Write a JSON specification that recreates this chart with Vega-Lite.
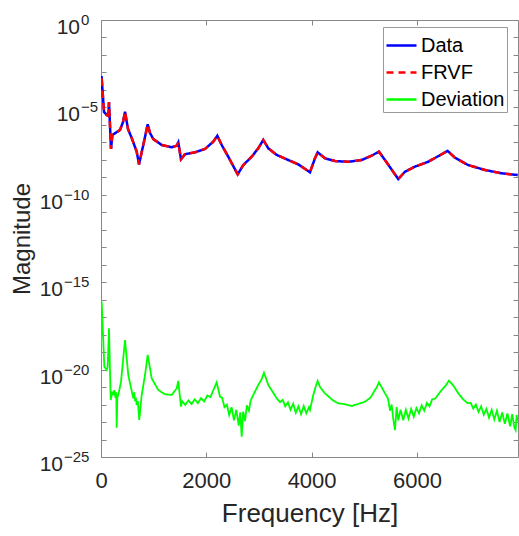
{
 "$schema": "https://vega.github.io/schema/vega-lite/v6.json",
 "width": 417,
 "height": 437,
 "autosize": {"type": "none"},
 "padding": {"left": 101, "top": 20, "right": 1, "bottom": 79},
 "background": "white",
 "config": {"view": {"stroke": null}, "font": "Liberation Sans"},
 "datasets": {
  "ylab": [
   {"m":1,"exp":"0"},{"m":1e-5,"exp":"−5"},{"m":1e-10,"exp":"−10"},
   {"m":1e-15,"exp":"−15"},{"m":1e-20,"exp":"−20"},{"m":1e-25,"exp":"−25"}
  ],
  "fit": [
   {"f":0,"m":3.94e-5},{"f":10,"m":6.25e-4},{"f":57,"m":5.50e-6},{"f":108,"m":3.67e-6},{"f":139,"m":3.24e-6},
   {"f":152,"m":2.04e-5},{"f":190,"m":4.17e-8},{"f":215,"m":2.63e-7},{"f":361,"m":5.13e-7},{"f":418,"m":1.45e-6},
   {"f":456,"m":5.62e-6},{"f":513,"m":5.75e-7},{"f":583,"m":1.78e-7},{"f":678,"m":2.95e-8},{"f":722,"m":5.50e-9},
   {"f":803,"m":7.08e-8},{"f":887,"m":1.07e-6},{"f":930,"m":3.47e-7},{"f":993,"m":1.55e-7},{"f":1153,"m":7.08e-8},
   {"f":1343,"m":5.25e-8},{"f":1438,"m":6.46e-8},{"f":1468,"m":1.0e-7},{"f":1519,"m":1.07e-8},{"f":1595,"m":2.09e-8},
   {"f":1785,"m":2.69e-8},{"f":1975,"m":4.17e-8},{"f":2133,"m":1.10e-7},{"f":2209,"m":2.40e-7},{"f":2292,"m":7.08e-8},
   {"f":2417,"m":1.51e-8},{"f":2596,"m":1.48e-9},{"f":2702,"m":5.01e-9},{"f":2862,"m":1.51e-8},{"f":2987,"m":4.57e-8},
   {"f":3082,"m":1.38e-7},{"f":3177,"m":4.57e-8},{"f":3337,"m":1.91e-8},{"f":3557,"m":9.77e-9},{"f":3747,"m":5.50e-9},
   {"f":3969,"m":1.95e-9},{"f":4064,"m":1.23e-8},{"f":4115,"m":2.69e-8},{"f":4254,"m":1.23e-8},{"f":4444,"m":8.51e-9},
   {"f":4696,"m":7.76e-9},{"f":4951,"m":9.77e-9},{"f":5141,"m":1.74e-8},{"f":5279,"m":2.95e-8},{"f":5393,"m":9.77e-9},
   {"f":5526,"m":2.63e-9},{"f":5646,"m":7.94e-10},{"f":5773,"m":2.09e-9},{"f":5963,"m":4.07e-9},{"f":6215,"m":7.76e-9},
   {"f":6470,"m":2.09e-8},{"f":6584,"m":3.24e-8},{"f":6722,"m":1.32e-8},{"f":6975,"m":5.01e-9},{"f":7292,"m":2.63e-9},
   {"f":7609,"m":1.70e-9},{"f":7913,"m":1.35e-9}
  ],
  "dev": [
   {"f":0,"m":2.57e-19},{"f":13,"m":7.59e-17},{"f":63,"m":1.48e-20},{"f":108,"m":9.55e-21},{"f":127,"m":1.48e-20},
   {"f":152,"m":2.29e-18},{"f":184,"m":1.82e-22},{"f":215,"m":5.50e-22},{"f":235,"m":3.55e-22},{"f":253,"m":6.76e-22},
   {"f":275,"m":2.40e-22},{"f":290,"m":5.01e-22},{"f":298,"m":4.79e-24},{"f":310,"m":2.51e-22},{"f":329,"m":3.55e-22},
   {"f":380,"m":2.04e-21},{"f":456,"m":4.90e-19},{"f":518,"m":4.90e-21},{"f":613,"m":2.29e-22},{"f":630,"m":5.01e-22},
   {"f":646,"m":1.58e-22},{"f":660,"m":2.51e-22},{"f":678,"m":9.33e-23},{"f":700,"m":1.58e-22},{"f":727,"m":1.32e-23},
   {"f":773,"m":3.55e-22},{"f":836,"m":4.90e-21},{"f":887,"m":6.92e-20},{"f":963,"m":3.16e-21},{"f":1088,"m":6.76e-22},
   {"f":1215,"m":3.89e-22},{"f":1343,"m":3.55e-22},{"f":1438,"m":8.51e-22},{"f":1468,"m":2.24e-21},{"f":1519,"m":7.59e-23},
   {"f":1540,"m":1.58e-22},{"f":1600,"m":9.55e-23},{"f":1660,"m":1.74e-22},{"f":1720,"m":1.07e-22},{"f":1780,"m":2.00e-22},
   {"f":1840,"m":1.20e-22},{"f":1900,"m":2.34e-22},{"f":1960,"m":1.51e-22},{"f":2020,"m":3.31e-22},{"f":2080,"m":2.69e-22},
   {"f":2130,"m":6.31e-22},{"f":2197,"m":1.86e-21},{"f":2260,"m":2.82e-22},{"f":2300,"m":2.51e-22},{"f":2345,"m":7.08e-23},
   {"f":2390,"m":1.00e-22},{"f":2435,"m":2.51e-23},{"f":2480,"m":7.08e-23},{"f":2525,"m":1.26e-23},{"f":2570,"m":5.01e-23},
   {"f":2615,"m":6.31e-24},{"f":2645,"m":3.55e-23},{"f":2672,"m":1.45e-24},{"f":2700,"m":3.98e-23},{"f":2735,"m":1.12e-23},
   {"f":2770,"m":8.91e-23},{"f":2810,"m":4.47e-23},{"f":2840,"m":1.58e-22},{"f":2862,"m":2.29e-22},{"f":2987,"m":1.32e-21},
   {"f":3050,"m":2.82e-21},{"f":3095,"m":6.61e-21},{"f":3140,"m":2.82e-21},{"f":3177,"m":1.32e-21},{"f":3337,"m":2.29e-22},
   {"f":3400,"m":1.35e-22},{"f":3450,"m":1.86e-22},{"f":3500,"m":7.94e-23},{"f":3550,"m":1.35e-22},{"f":3600,"m":5.01e-23},
   {"f":3650,"m":1.12e-22},{"f":3700,"m":3.39e-23},{"f":3750,"m":7.94e-23},{"f":3800,"m":2.82e-23},{"f":3850,"m":8.32e-23},
   {"f":3900,"m":3.16e-23},{"f":3950,"m":7.08e-23},{"f":3969,"m":4.90e-23},{"f":4032,"m":3.55e-22},{"f":4080,"m":1.12e-21},
   {"f":4115,"m":2.24e-21},{"f":4160,"m":1.0e-21},{"f":4254,"m":4.37e-22},{"f":4400,"m":1.78e-22},{"f":4506,"m":1.17e-22},
   {"f":4620,"m":1.07e-22},{"f":4761,"m":8.32e-23},{"f":4900,"m":1.12e-22},{"f":5013,"m":1.45e-22},{"f":5120,"m":2.51e-22},
   {"f":5203,"m":6.76e-22},{"f":5240,"m":1.0e-21},{"f":5279,"m":1.86e-21},{"f":5393,"m":4.37e-22},{"f":5450,"m":2.24e-22},
   {"f":5490,"m":4.47e-23},{"f":5520,"m":1.00e-22},{"f":5550,"m":1.58e-23},{"f":5583,"m":3.47e-24},{"f":5615,"m":7.08e-23},
   {"f":5646,"m":1.26e-23},{"f":5690,"m":5.01e-23},{"f":5740,"m":1.26e-23},{"f":5790,"m":5.01e-23},{"f":5840,"m":1.58e-23},
   {"f":5890,"m":5.62e-23},{"f":5940,"m":2.00e-23},{"f":5990,"m":6.31e-23},{"f":6040,"m":3.16e-23},{"f":6090,"m":8.91e-23},
   {"f":6140,"m":4.47e-23},{"f":6190,"m":1.26e-22},{"f":6240,"m":7.94e-23},{"f":6290,"m":2.00e-22},{"f":6350,"m":2.24e-22},
   {"f":6410,"m":3.98e-22},{"f":6470,"m":6.76e-22},{"f":6550,"m":1.26e-21},{"f":6609,"m":2.34e-21},{"f":6700,"m":1.12e-21},
   {"f":6785,"m":4.37e-22},{"f":6880,"m":2.00e-22},{"f":6960,"m":1.20e-22},{"f":7020,"m":1.26e-22},{"f":7070,"m":5.89e-23},
   {"f":7120,"m":1.00e-22},{"f":7170,"m":3.80e-23},{"f":7220,"m":7.94e-23},{"f":7270,"m":2.63e-23},{"f":7320,"m":5.62e-23},
   {"f":7370,"m":1.78e-23},{"f":7420,"m":5.01e-23},{"f":7470,"m":1.41e-23},{"f":7520,"m":4.47e-23},{"f":7570,"m":1.00e-23},
   {"f":7620,"m":3.55e-23},{"f":7670,"m":7.94e-24},{"f":7720,"m":3.16e-23},{"f":7770,"m":5.62e-24},{"f":7810,"m":2.82e-23},
   {"f":7850,"m":5.01e-24},{"f":7875,"m":3.47e-24},{"f":7895,"m":2.51e-23},{"f":7913,"m":1.05e-23}
  ]
 },
 "layer": [
  {
   "data": {"name": "fit"},
   "mark": {"type": "line", "strokeWidth": 2.5, "clip": true},
   "encoding": {
    "x": {"field": "f", "type": "quantitative",
     "scale": {"domain": [0, 7920], "nice": false, "zero": false},
     "axis": {"orient": "bottom", "values": [0, 2000, 4000, 6000], "format": "d", "grid": false,
      "title": "Frequency [Hz]", "titleFontSize": 26, "titleFontWeight": "normal", "titleColor": "#262626", "titlePadding": 9,
      "labelFontSize": 22, "labelColor": "#262626", "labelPadding": 18, "labelFlush": false,
      "tickSize": -5, "tickColor": "#888888", "domainColor": "#888888"}},
    "y": {"field": "m", "type": "quantitative",
     "scale": {"type": "log", "domain": [1e-25, 1], "nice": false},
     "axis": {"orient": "left", "grid": false, "labels": false,
      "values": [1e-25,1e-24,1e-23,1e-22,1e-21,1e-20,1e-19,1e-18,1e-17,1e-16,1e-15,1e-14,1e-13,1e-12,1e-11,1e-10,1e-9,1e-8,1e-7,1e-6,1e-5,1e-4,1e-3,1e-2,1e-1,1],
      "title": "Magnitude", "titleFontSize": 24, "titleFontWeight": "normal", "titleColor": "#262626", "titlePadding": 66,
      "tickSize": -5, "tickColor": "#888888", "domainColor": "#888888"}},
    "color": {"datum": "Data", "type": "nominal",
     "scale": {"domain": ["Data", "FRVF", "Deviation"], "range": ["#0000ff", "#ff0000", "#00ff00"]},
     "legend": {"title": null, "orient": "none", "legendX": 282, "legendY": 7,
      "fillColor": "white", "strokeColor": "#999999", "padding": 2, "cornerRadius": 0,
      "labelFontSize": 20, "labelColor": "#000000", "labelOffset": 3,
      "symbolType": "stroke", "symbolSize": 900, "symbolStrokeWidth": 2.5, "rowPadding": -2}},
    "strokeDash": {"datum": "Data", "type": "nominal",
     "scale": {"domain": ["Data", "FRVF", "Deviation"], "range": [[1, 0], [7, 5], [1, 0]]}}
   }
  },
  {
   "data": {"name": "fit"},
   "mark": {"type": "line", "strokeWidth": 2.5, "clip": true},
   "encoding": {
    "x": {"field": "f", "type": "quantitative", "axis": null},
    "y": {"field": "m", "type": "quantitative", "axis": null},
    "color": {"datum": "FRVF", "type": "nominal"},
    "strokeDash": {"datum": "FRVF", "type": "nominal"}
   }
  },
  {
   "data": {"name": "dev"},
   "mark": {"type": "line", "strokeWidth": 1.8, "clip": true},
   "encoding": {
    "x": {"field": "f", "type": "quantitative", "axis": null},
    "y": {"field": "m", "type": "quantitative", "axis": null},
    "color": {"datum": "Deviation", "type": "nominal"},
    "strokeDash": {"datum": "Deviation", "type": "nominal"}
   }
  },
  {
   "data": {"name": "ylab"},
   "mark": {"type": "text", "align": "right", "baseline": "alphabetic", "fontSize": 21, "color": "#262626",
    "dy": 14, "dx": {"expr": "length(datum.exp) > 2 ? -38 : -21"}},
   "encoding": {
    "x": {"datum": 0, "type": "quantitative", "axis": null},
    "y": {"field": "m", "type": "quantitative", "axis": null},
    "text": {"value": "10"}
   }
  },
  {
   "data": {"name": "ylab"},
   "mark": {"type": "text", "align": "left", "baseline": "alphabetic", "fontSize": 15, "color": "#262626",
    "dy": 5, "dx": {"expr": "length(datum.exp) > 2 ? -37 : -20"}},
   "encoding": {
    "x": {"datum": 0, "type": "quantitative", "axis": null},
    "y": {"field": "m", "type": "quantitative", "axis": null},
    "text": {"field": "exp"}
   }
  },
  {
   "data": {"name": "fit"},
   "mark": {"type": "line", "opacity": 0},
   "encoding": {
    "x": {"field": "f", "type": "quantitative",
     "axis": {"orient": "top", "values": [0, 2000, 4000, 6000], "labels": false, "title": null, "grid": false,
      "tickSize": -5, "tickColor": "#888888", "domainColor": "#888888"}},
    "y": {"field": "m", "type": "quantitative",
     "axis": {"orient": "right", "labels": false, "title": null, "grid": false,
      "values": [1e-25,1e-24,1e-23,1e-22,1e-21,1e-20,1e-19,1e-18,1e-17,1e-16,1e-15,1e-14,1e-13,1e-12,1e-11,1e-10,1e-9,1e-8,1e-7,1e-6,1e-5,1e-4,1e-3,1e-2,1e-1,1],
      "tickSize": -5, "tickColor": "#888888", "domainColor": "#888888"}}
   }
  }
 ],
 "resolve": {"axis": {"x": "independent", "y": "independent"}}
}
